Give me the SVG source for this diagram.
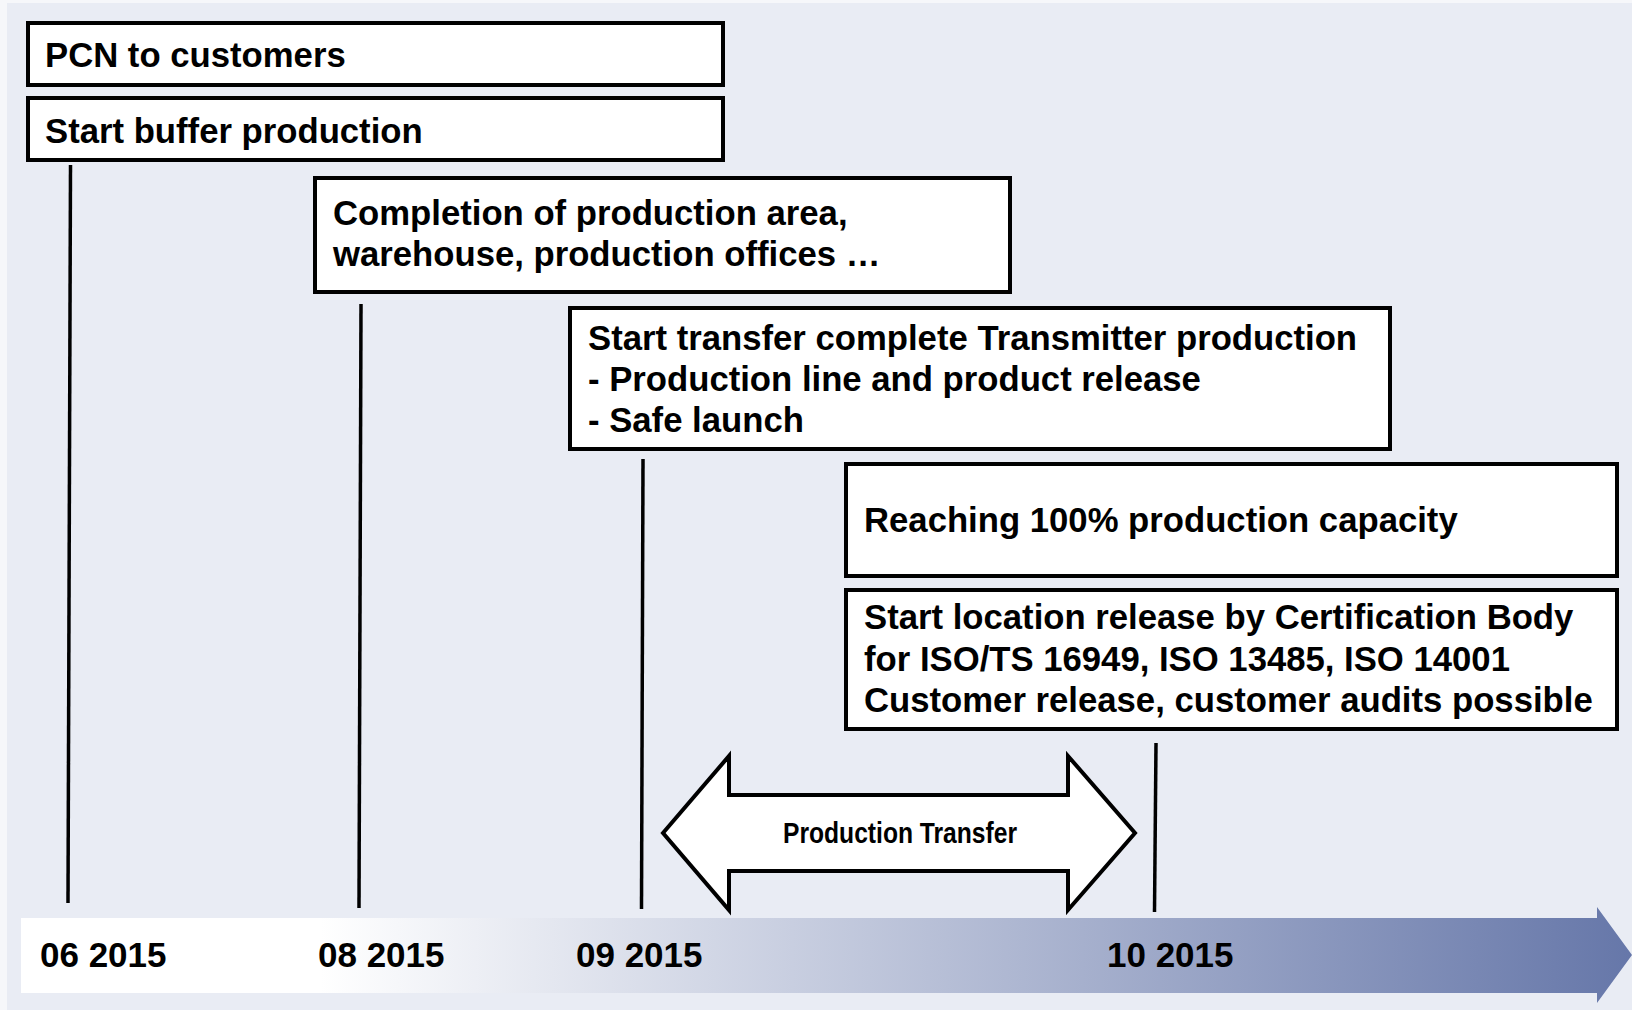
<svg xmlns="http://www.w3.org/2000/svg" width="1632" height="1010" viewBox="0 0 1632 1010">
  <style>
    .box { fill: #ffffff; stroke: #000000; stroke-width: 4; }
    .txt { font-family: "Liberation Sans", Arial, sans-serif; font-weight: bold; font-size: 34.7px; fill: #000000; }
    .date { font-family: "Liberation Sans", Arial, sans-serif; font-weight: bold; font-size: 35px; fill: #000000; }
    .lbl { font-family: "Liberation Sans", Arial, sans-serif; font-weight: bold; font-size: 29px; fill: #000000; }
    .conn { stroke: #000000; stroke-width: 3.5; fill: none; }
  </style>
  <defs>
    <linearGradient id="bandGrad" gradientUnits="userSpaceOnUse" x1="21" y1="0" x2="1632" y2="0">
      <stop offset="0" stop-color="#ffffff"/>
      <stop offset="0.186" stop-color="#ffffff"/>
      <stop offset="1" stop-color="#6677a9"/>
    </linearGradient>
  </defs>

  <rect x="0" y="0" width="1632" height="1010" fill="#f6f7fa"/>
  <rect x="7" y="3" width="1625" height="1007" fill="#e9ecf4"/>

  <g id="timeline">
    <polygon points="21,918 1597,918 1597,907 1632,955 1597,1003 1597,993 21,993" fill="url(#bandGrad)"/>
    <text class="date" x="40" y="967">06 2015</text>
    <text class="date" x="318" y="967">08 2015</text>
    <text class="date" x="576" y="967">09 2015</text>
    <text class="date" x="1107" y="967">10 2015</text>
  </g>

  <g id="connectors">
    <line class="conn" x1="70.5" y1="165" x2="68" y2="903"/>
    <line class="conn" x1="361" y1="304" x2="359" y2="908"/>
    <line class="conn" x1="643" y1="459" x2="641.5" y2="909"/>
    <line class="conn" x1="1156" y1="743" x2="1154.5" y2="912"/>
  </g>

  <g id="pcn">
    <rect class="box" x="28" y="23" width="695" height="62"/>
    <text class="txt" x="45" y="67">PCN to customers</text>
  </g>

  <g id="buffer">
    <rect class="box" x="28" y="98" width="695" height="62"/>
    <text class="txt" x="45" y="143">Start buffer production</text>
  </g>

  <g id="completion">
    <rect class="box" x="315" y="178" width="695" height="114"/>
    <text class="txt" x="333" y="225">Completion of production area,</text>
    <text class="txt" x="333" y="266">warehouse, production offices …</text>
  </g>

  <g id="transfer">
    <rect class="box" x="570" y="308" width="820" height="141"/>
    <text class="txt" x="588" y="350">Start transfer complete Transmitter production</text>
    <text class="txt" x="588" y="391">- Production line and product release</text>
    <text class="txt" x="588" y="432">- Safe launch</text>
  </g>

  <g id="capacity">
    <rect class="box" x="846" y="464" width="771" height="112"/>
    <text class="txt" x="864" y="532">Reaching 100% production capacity</text>
  </g>

  <g id="release">
    <rect class="box" x="846" y="590" width="771" height="139"/>
    <text class="txt" x="864" y="629">Start location release by Certification Body</text>
    <text class="txt" x="864" y="671">for ISO/TS 16949, ISO 13485, ISO 14001</text>
    <text class="txt" x="864" y="712">Customer release, customer audits possible</text>
  </g>

  <g id="production-transfer">
    <polygon points="663,833 729,756 729,795 1068,795 1068,756 1135,833 1068,910 1068,871 729,871 729,910" fill="#ffffff" stroke="#000000" stroke-width="4" stroke-linejoin="miter"/>
    <text class="lbl" x="783" y="843" textLength="234" lengthAdjust="spacingAndGlyphs">Production Transfer</text>
  </g>
</svg>
